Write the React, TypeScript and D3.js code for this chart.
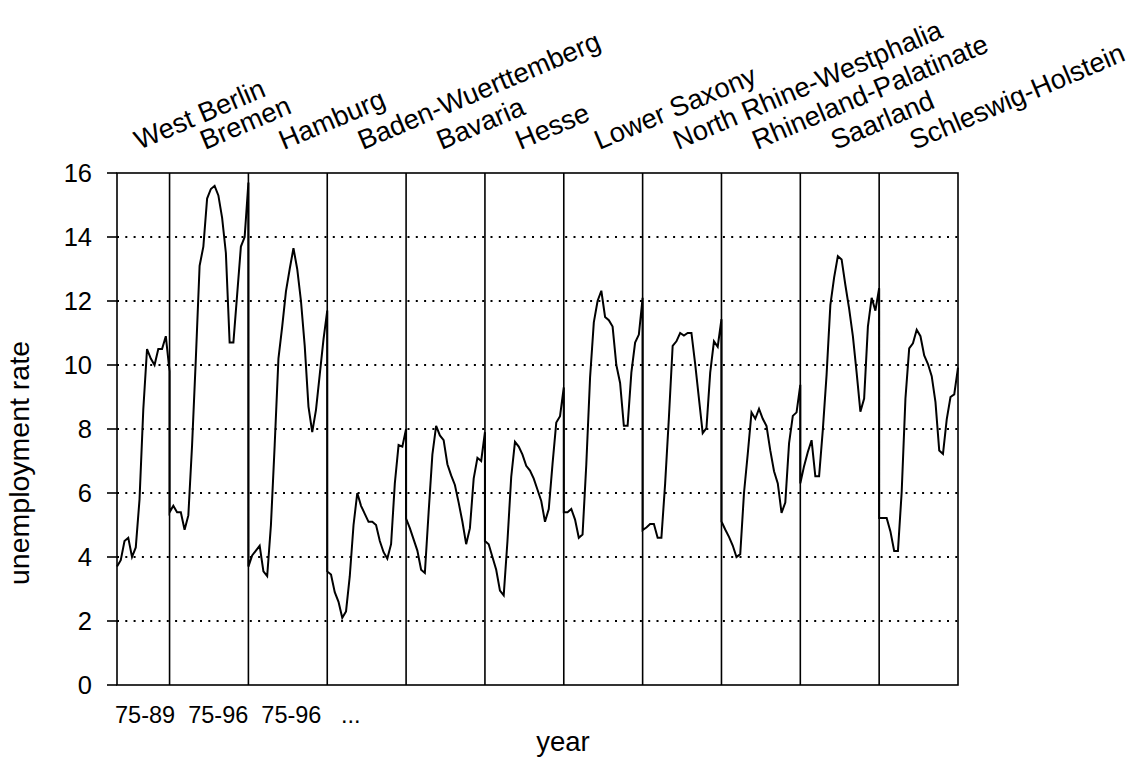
import { useEffect, useRef } from 'react';
import * as d3 from 'd3';

// Länder, in plotting order
const stateNames = [
  'West Berlin', 'Bremen', 'Hamburg', 'Baden-Wuerttemberg', 'Bavaria', 'Hesse',
  'Lower Saxony', 'North Rhine-Westphalia', 'Rhineland-Palatinate', 'Saarland', 'Schleswig-Holstein',
];

// unemployment rate by year (West Berlin 75-89, the rest 75-96)
const westBerlin = [3.7, 3.9, 4.5, 4.6, 4.0, 4.3, 5.8, 8.6, 10.5, 10.2, 10.0, 10.5, 10.5, 10.9, 9.8];
const bremen = [5.4, 5.6, 5.4, 5.4, 4.85, 5.3, 7.5, 10.2, 13.1, 13.7, 15.2, 15.5, 15.6, 15.3, 14.6, 13.5, 10.7, 10.7, 12.2, 13.7, 14.0, 15.7];
const hamburg = [3.7, 4.05, 4.2, 4.35, 3.55, 3.4, 5.0, 7.5, 10.2, 11.2, 12.3, 13.0, 13.65, 13.0, 12.0, 10.6, 8.7, 7.9, 8.6, 9.7, 10.8, 11.7];
const badenWuerttemberg = [3.55, 3.45, 2.9, 2.6, 2.1, 2.3, 3.4, 5.0, 6.0, 5.6, 5.35, 5.1, 5.1, 5.0, 4.5, 4.15, 3.95, 4.4, 6.3, 7.5, 7.45, 8.0];
const bavaria = [5.2, 4.9, 4.55, 4.2, 3.6, 3.5, 5.4, 7.2, 8.1, 7.8, 7.65, 6.9, 6.55, 6.25, 5.7, 5.1, 4.4, 4.9, 6.45, 7.1, 7.0, 7.9];
const hesse = [4.5, 4.4, 4.0, 3.6, 2.95, 2.8, 4.5, 6.5, 7.6, 7.45, 7.2, 6.85, 6.7, 6.45, 6.1, 5.75, 5.1, 5.5, 6.9, 8.2, 8.4, 9.3];
const lowerSaxony = [5.4, 5.4, 5.5, 5.17, 4.6, 4.7, 6.9, 9.6, 11.33, 12.0, 12.32, 11.5, 11.4, 11.2, 10.0, 9.44, 8.1, 8.1, 9.76, 10.7, 10.95, 12.1];
const northRhineWestphalia = [4.84, 4.92, 5.03, 5.03, 4.6, 4.6, 6.3, 8.36, 10.6, 10.74, 11.0, 10.92, 11.0, 11.0, 10.03, 8.95, 7.87, 8.03, 9.76, 10.74, 10.57, 11.43];
const rhinelandPalatinate = [5.11, 4.86, 4.63, 4.36, 4.0, 4.09, 6.0, 7.22, 8.52, 8.32, 8.63, 8.32, 8.09, 7.33, 6.68, 6.3, 5.38, 5.7, 7.55, 8.41, 8.52, 9.38];
const saarland = [6.3, 6.84, 7.28, 7.65, 6.52, 6.52, 7.98, 9.7, 11.87, 12.73, 13.4, 13.3, 12.5, 11.76, 10.9, 9.76, 8.54, 8.95, 11.2, 12.1, 11.7, 12.4];
const schleswigHolstein = [5.22, 5.22, 5.22, 4.8, 4.19, 4.19, 6.03, 8.95, 10.52, 10.68, 11.1, 10.9, 10.3, 10.03, 9.65, 8.84, 7.33, 7.22, 8.3, 9.0, 9.08, 9.92];

const rateSeries = [
  westBerlin, bremen, hamburg, badenWuerttemberg, bavaria, hesse,
  lowerSaxony, northRhineWestphalia, rhinelandPalatinate, saarland, schleswigHolstein,
];

const yTicks = [0, 2, 4, 6, 8, 10, 12, 14, 16];
const gridLevels = [2, 4, 6, 8, 10, 12, 14];
const periodNote = '75-89  75-96  75-96   ...';

export default function App() {
  const svgRef = useRef<SVGSVGElement>(null);

  useEffect(() => {
    if (!svgRef.current) return;
    const svg = d3.select(svgRef.current);
    svg.selectAll('*').remove();

    const width = 1136;
    const height = 758;
    const margin = { top: 173, right: 178, bottom: 73, left: 117 };
    const font = 'Liberation Sans, Arial, Helvetica, sans-serif';

    // one running index; each state's first year shares x with the previous state's last year
    const points: { x: number; v: number }[] = [];
    const spans: [number, number][] = [];
    let offset = 0;
    rateSeries.forEach(series => {
      series.forEach((v, k) => points.push({ x: offset + k, v }));
      spans.push([offset, offset + series.length - 1]);
      offset += series.length - 1;
    });

    const x = d3.scaleLinear().domain([0, offset]).range([margin.left, width - margin.right]);
    const y = d3.scaleLinear().domain([0, 16]).range([height - margin.bottom, margin.top]);

    const g = svg.append('g');

    // dotted grid
    g.selectAll('line.grid')
      .data(gridLevels)
      .enter()
      .append('line')
      .attr('x1', x(0))
      .attr('x2', x(offset))
      .attr('y1', d => y(d))
      .attr('y2', d => y(d))
      .attr('stroke', '#000')
      .attr('stroke-width', 2)
      .attr('stroke-dasharray', '2 6.3');

    // state separators
    g.selectAll('line.sep')
      .data(spans.slice(1))
      .enter()
      .append('line')
      .attr('x1', d => x(d[0]))
      .attr('x2', d => x(d[0]))
      .attr('y1', y(0))
      .attr('y2', y(16))
      .attr('stroke', '#000')
      .attr('stroke-width', 1.6);

    // frame
    g.append('rect')
      .attr('x', x(0))
      .attr('y', y(16))
      .attr('width', x(offset) - x(0))
      .attr('height', y(0) - y(16))
      .attr('fill', 'none')
      .attr('stroke', '#000')
      .attr('stroke-width', 1.6);

    // y ticks + labels
    g.selectAll('line.tick')
      .data(yTicks)
      .enter()
      .append('line')
      .attr('x1', x(0) - 10)
      .attr('x2', x(0))
      .attr('y1', d => y(d))
      .attr('y2', d => y(d))
      .attr('stroke', '#000')
      .attr('stroke-width', 1.6);

    g.selectAll('text.tick')
      .data(yTicks)
      .enter()
      .append('text')
      .attr('x', x(0) - 25)
      .attr('y', d => y(d))
      .attr('dy', '0.36em')
      .attr('text-anchor', 'end')
      .attr('font-family', font)
      .attr('font-size', 25.5)
      .text(d => d);

    // the series
    const line = d3.line<{ x: number; v: number }>()
      .x(d => x(d.x))
      .y(d => y(d.v));

    g.append('path')
      .datum(points)
      .attr('d', line)
      .attr('fill', 'none')
      .attr('stroke', '#000')
      .attr('stroke-width', 2)
      .attr('stroke-linejoin', 'miter');

    // state names, tilted
    g.selectAll('text.state')
      .data(stateNames)
      .enter()
      .append('text')
      .attr('transform', (d, i) => {
        const cx = x((spans[i][0] + spans[i][1]) / 2) - 4;
        return `translate(${cx},150) rotate(-23)`;
      })
      .attr('font-family', font)
      .attr('font-size', 27.3)
      .text(d => d);

    // period note under the axis
    g.append('text')
      .attr('x', x(0) - 2)
      .attr('y', 723)
      .attr('font-family', font)
      .attr('font-size', 23.5)
      .style('white-space', 'pre')
      .text(periodNote);

    // axis titles
    g.append('text')
      .attr('x', 563)
      .attr('y', 751)
      .attr('text-anchor', 'middle')
      .attr('font-family', font)
      .attr('font-size', 27.5)
      .text('year');

    g.append('text')
      .attr('transform', 'translate(29,463) rotate(-90)')
      .attr('text-anchor', 'middle')
      .attr('font-family', font)
      .attr('font-size', 28.5)
      .text('unemployment rate');
  }, []);

  return (
    <svg
      ref={svgRef}
      width={1136}
      height={758}
      style={{ position: 'absolute', left: 0, top: 0, background: '#fff' }}
    />
  );
}
